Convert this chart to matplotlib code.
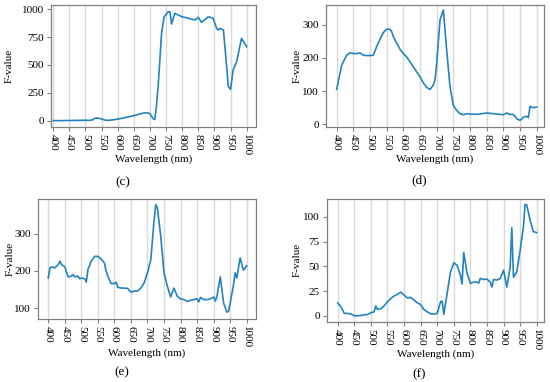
import matplotlib.pyplot as plt

plt.rcParams["font.family"] = ["Liberation Serif", "DejaVu Serif"]

LINE = "#2383c0"
W, H = 550, 382

wl_c = [400, 410, 420, 430, 440, 450, 460, 470, 480, 490, 500, 510, 520, 530, 540,
        550, 560, 570, 580, 590, 600, 610, 620, 630, 640, 650, 660, 670, 680, 690,
        700, 710, 715, 720, 726, 736, 744, 750, 757, 762, 767, 777, 788, 800, 819,
        840, 850, 860, 881, 896, 907, 912, 917, 928, 938, 943, 950, 958, 969, 984,
        1000]
fval_c = [3, 3, 3, 3, 4, 4, 4, 5, 5, 6, 7, 5, 8, 25, 25,
          18, 8, 5, 8, 12, 17, 22, 28, 35, 40, 47, 55, 63, 70, 73,
          65, 20, 12, 128, 336, 783, 931, 952, 976, 976, 866, 961, 946, 931, 917,
          902, 926, 881, 931, 917, 827, 812, 827, 812, 485, 307, 283, 455, 530, 738,
          664]

wl_d = [400, 410, 415, 420, 430, 440, 450, 460, 470, 480, 490, 500, 510, 520, 530,
        540, 550, 560, 565, 570, 580, 590, 600, 610, 620, 630, 640, 650, 660, 670,
        680, 690, 695, 700, 710, 720, 730, 740, 750, 760, 770, 780, 790, 800, 820,
        850, 880, 900, 910, 920, 930, 940, 950, 955, 960, 970, 975, 980, 990, 1000]
fval_d = [105, 153, 178, 188, 208, 215, 213, 213, 215, 208, 207, 207, 208, 234, 256,
          276, 286, 286, 279, 264, 244, 226, 213, 203, 188, 173, 158, 143, 125, 111,
          105, 118, 133, 183, 314, 344, 224, 113, 57, 42, 32, 29, 32, 31, 30,
          34, 31, 29, 34, 30, 30, 17, 12, 16, 22, 24, 20, 54, 50, 52]

wl_e = [400, 405, 410, 420, 430, 435, 440, 450, 460, 470, 475, 480, 490, 495, 500,
        510, 515, 520, 530, 540, 550, 560, 570, 575, 580, 590, 600, 605, 610, 620,
        630, 640, 650, 660, 670, 680, 690, 700, 710, 720, 725, 730, 740, 750, 760,
        770, 780, 790, 800, 810, 820, 830, 840, 850, 855, 860, 870, 880, 890, 900,
        905, 910, 920, 925, 930, 940, 945, 950, 960, 965, 970, 980, 990, 1000]
fval_e = [181, 208, 211, 208, 217, 226, 217, 211, 184, 186, 190, 184, 186, 179, 181,
          179, 170, 204, 226, 239, 239, 232, 221, 199, 186, 166, 166, 170, 156, 154,
          154, 153, 143, 146, 146, 154, 168, 195, 230, 337, 378, 369, 293, 195, 159,
          130, 154, 132, 125, 123, 118, 121, 123, 125, 117, 129, 123, 123, 125, 130,
          119, 132, 184, 150, 114, 89, 92, 114, 163, 195, 181, 235, 202, 214]

wl_f = [400, 410, 420, 430, 440, 450, 460, 470, 480, 490, 500, 510, 515, 520, 530,
        540, 550, 560, 570, 580, 590, 600, 610, 620, 630, 640, 650, 660, 670, 680,
        690, 700, 710, 715, 720, 730, 740, 750, 760, 770, 775, 780, 790, 800, 810,
        820, 825, 830, 840, 850, 860, 865, 870, 880, 890, 900, 910, 920, 925, 930,
        940, 950, 960, 965, 970, 980, 990, 1000]
fval_f = [13, 9, 2.4, 2.4, 1.7, 0, 0, 0.3, 1, 1.3, 3, 4, 10, 6.4, 7,
          10, 14, 17.5, 20, 21.5, 24, 21, 18, 18.5, 16, 13, 11.4, 6.4, 4, 2,
          1.7, 2.4, 14, 15, 1.5, 22.5, 44, 53.5, 51, 41, 32, 64, 43, 32.7, 34,
          34, 33, 37.7, 36.7, 37, 34, 29, 36.7, 36, 37.7, 46, 29, 49.5, 89, 39,
          44.4, 66, 90, 112.5, 112, 96.6, 85, 84]

xticks = list(range(400, 1001, 50))

# (wl, fval, yticks, rect px [left, top, right, bottom], xlim, ylim, ylabel x, xlabel y, tag, tag pos)
panels = [
    (wl_c, fval_c, [0, 250, 500, 750, 1000], (51, 5, 256, 127), (393, 1029), (-54, 1036),
     -0.205, -0.262, "(c)", (123, 182)),
    (wl_d, fval_d, [0, 100, 200, 300], (326, 5, 544, 127), (368, 1022), (-8, 359),
     -0.133, -0.262, "(d)", (419, 180)),
    (wl_e, fval_e, [100, 200, 300], (38, 199, 256, 319), (369, 1028), (71, 393),
     -0.128, -0.286, "(e)", (122, 372)),
    (wl_f, fval_f, [0, 25, 50, 75, 100], (326.7, 199, 544, 321.7), (367, 1022), (-6, 118),
     -0.137, -0.266, "(f)", (419, 374)),
]

fig = plt.figure(figsize=(W / 100, H / 100), dpi=100)

for wl, fv, yt, (l, t, r, b), xl, yl, ylx, xly, tag, (tx, ty) in panels:
    ax = fig.add_axes([l / W, 1 - b / H, (r - l) / W, (b - t) / H])
    ax.plot(wl, fv, color=LINE, linewidth=1.2)
    ax.set_xlim(*xl)
    ax.set_ylim(*yl)
    ax.set_xticks(xticks)
    ax.set_yticks(yt)
    ax.tick_params(axis="x", labelrotation=-90, labelsize=8, length=3, color="#808080", pad=2)
    ax.tick_params(axis="y", labelsize=8, length=3, color="#808080", pad=2)
    ax.grid(axis="x", color="#d9d9d9", linewidth=1)
    ax.set_axisbelow(True)
    for s in ax.spines.values():
        s.set_color("#808080")
        s.set_linewidth(0.9)
    ax.set_xlabel("Wavelength (nm)", fontsize=8)
    ax.set_ylabel("F-value", fontsize=8)
    ax.xaxis.set_label_coords(0.5, xly)
    ax.yaxis.set_label_coords(ylx, 0.5)
    ax.xaxis.label.set_va("center")
    ax.yaxis.label.set_va("center")
    fig.text(tx / W, 1 - ty / H, tag, fontsize=9.5, ha="center", va="center")

fig.savefig("out.png", dpi=100)
